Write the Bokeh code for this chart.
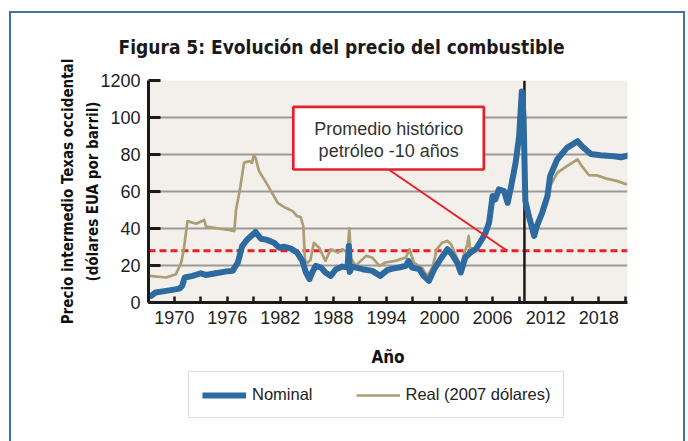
from bokeh.plotting import figure
from bokeh.layouts import column
from bokeh.models import Range1d, FixedTicker, Span, BoxAnnotation, Label, Legend
from bokeh.embed import file_html
from bokeh.resources import INLINE

# ---------------- data ----------------
nominal_year = [1967.4, 1967.9, 1969.1, 1970.6, 1970.9, 1971.2, 1972.1, 1973.0, 1973.6, 1974.7,
                1975.8, 1976.6, 1977.2, 1977.7, 1978.3, 1979.2, 1979.8, 1980.4, 1981.3, 1981.9,
                1982.4, 1983.2, 1983.9, 1984.5, 1984.9, 1985.3, 1985.6, 1986.0, 1986.6, 1987.1,
                1987.7, 1988.3, 1989.0, 1989.6, 1989.75, 1989.85, 1990.1, 1991.3, 1992.4, 1993.3,
                1994.1, 1994.7, 1995.4, 1996.2, 1996.5, 1996.9, 1997.7, 1998.2, 1998.8, 1999.4,
                2000.1, 2000.9, 2001.4, 2002.0, 2002.4, 2002.9, 2003.5, 2004.1, 2004.8, 2005.2,
                2005.6, 2006.0, 2006.3, 2006.7, 2007.3, 2007.7, 2008.1, 2008.6, 2009.0, 2009.3,
                2009.5, 2009.7, 2010.1, 2010.7, 2011.0, 2011.6, 2012.2, 2012.5, 2013.3, 2014.4,
                2015.6, 2016.1, 2017.1, 2018.2, 2019.7, 2020.5, 2021.4]
nominal_price = [3.6, 5.4, 6.3, 7.5, 9.0, 13.5, 14.4, 15.8, 14.9, 15.8,
                 16.7, 17.1, 21.6, 30.6, 34.2, 38.1, 34.5, 34.0, 32.3, 29.6,
                 30.2, 29.1, 27.0, 22.5, 16.2, 12.6, 16.2, 19.8, 18.9, 16.2,
                 14.4, 18.0, 19.4, 18.9, 30.6, 16.5, 19.4, 18.0, 17.1, 14.4,
                 17.5, 18.3, 18.9, 19.8, 22.5, 18.9, 18.0, 14.4, 11.7, 18.0,
                 23.4, 28.8, 26.1, 21.6, 16.2, 24.3, 27.0, 28.8, 34.2, 37.7,
                 43.1, 57.5, 55.7, 61.1, 60.2, 53.9, 62.9, 75.5, 89.9, 114.0,
                 100.6, 54.8, 46.7, 36.0, 41.3, 48.5, 57.5, 68.3, 77.3, 83.6,
                 87.2, 84.5, 80.3, 79.6, 79.1, 78.5, 79.5]

real_year = [1967.2, 1969.1, 1970.2, 1970.8, 1971.1, 1971.5, 1972.5, 1973.4, 1973.6, 1975.1,
             1976.2, 1976.8, 1977.0, 1977.5, 1977.9, 1978.5, 1978.8, 1979.0, 1979.2, 1979.6,
             1980.5, 1981.1, 1981.7, 1982.6, 1983.4, 1983.9, 1984.3, 1984.6, 1984.8, 1985.1,
             1985.4, 1985.8, 1986.4, 1987.1, 1987.7, 1988.5, 1989.0, 1989.6, 1989.8, 1990.0,
             1990.5, 1991.7, 1992.4, 1993.2, 1993.9, 1995.0, 1996.2, 1996.6, 1997.1, 1998.0,
             1998.6, 1999.2, 1999.7, 2000.3, 2000.9, 2001.3, 2001.8, 2002.4, 2002.8, 2003.1,
             2003.3, 2003.45, 2004.1, 2004.8, 2005.2, 2005.6, 2006.0, 2006.3, 2006.6, 2007.3,
             2007.7, 2008.1, 2008.6, 2009.0, 2009.4, 2009.65, 2009.9, 2010.1, 2010.7, 2011.0,
             2011.6, 2012.2, 2012.5, 2013.3, 2014.4, 2015.6, 2016.1, 2016.9, 2017.8, 2019.0,
             2020.1, 2021.2]
real_price = [14.4, 13.5, 15.3, 21.6, 28.8, 44.0, 42.6, 44.6, 41.0, 39.9,
              39.2, 38.6, 50.3, 62.9, 75.5, 76.4, 75.5, 79.5, 78.2, 71.0,
              64.0, 59.0, 53.9, 51.2, 49.4, 46.7, 46.2, 41.3, 22.5, 21.6,
              23.0, 32.3, 29.6, 22.5, 28.8, 27.0, 28.8, 27.0, 39.9, 24.0,
              19.8, 25.2, 24.3, 19.8, 21.6, 22.5, 24.3, 28.8, 21.6, 18.9,
              14.4, 18.9, 28.8, 32.3, 33.3, 31.5, 26.1, 18.9, 27.0, 30.6,
              36.0, 29.0, 29.5, 34.5, 38.0, 44.0, 58.5, 57.0, 62.0, 60.5,
              55.0, 63.0, 76.0, 89.0, 112.0, 80.0, 50.0, 46.0, 37.0, 41.0,
              47.0, 55.0, 62.9, 70.1, 73.7, 77.3, 73.7, 68.8, 68.7, 66.8,
              65.6, 63.8]

historical_average = 28.0
marker_year = 2009.6

x_tick_years = [1970, 1973, 1976, 1979, 1982, 1985, 1988, 1991, 1994, 1997,
                2000, 2003, 2006, 2009, 2012, 2015, 2018, 2021]
x_tick_labels = ["1970", "", "1976", "", "1982", "", "1988", "", "1994", "",
                 "2000", "", "2006", "", "2012", "", "2018", ""]
y_tick_values = [0, 20, 40, 60, 80, 100, 120]
y_tick_labels = ["0", "20", "40", "60", "80", "100", "1200"]

series_names = ["Nominal", "Real (2007 dólares)"]
title_text = "Figura 5: Evolución del precio del combustible"
callout_lines = ["Promedio histórico", "petróleo -10 años"]

# ---------------- styling ----------------
BLUE = "#2d6a9f"
TAN = "#ab9d74"
RED = "#e8202a"
FRAME_BLUE = "#3e73a8"
BOLD_FONT = "'DejaVu Sans Condensed', Roboto"
SANS = "Liberation Sans"

p = figure(frame_width=479, frame_height=222, output_backend="svg", toolbar_location=None,
           x_range=Range1d(1967.1, 2021.25), y_range=Range1d(0, 120),
           min_border_left=137, min_border_right=56, min_border_top=67,
           min_border_bottom=68,
           background_fill_color="#f3f0eb", border_fill_color="white",
           outline_line_color=None)

# title
p.title.text = title_text
p.title.align = "left"
p.title.offset = -30
p.title.vertical_align = "top"
p.title.text_font = BOLD_FONT
p.title.text_font_style = "bold"
p.title.text_font_size = "19px"
p.title.text_color = "#1a1a1a"
p.title.standoff = 41

# grid
p.xgrid.visible = False
p.ygrid.grid_line_color = "#9a9a9a"
p.ygrid.grid_line_width = 2
p.ygrid.ticker = FixedTicker(ticks=y_tick_values)

# x axis
xa = p.xaxis[0]
xa.ticker = FixedTicker(ticks=x_tick_years, minor_ticks=[])
xa.major_label_overrides = {y: l for y, l in zip(x_tick_years, x_tick_labels)}
xa.axis_line_width = 3
xa.axis_line_color = "#1a1a1a"
xa.major_tick_in = 6
xa.major_tick_out = 0
xa.major_tick_line_width = 2.5
xa.major_tick_line_color = "#1a1a1a"
xa.minor_tick_line_color = None
xa.major_label_text_font = SANS
xa.major_label_text_font_size = "18px"
xa.major_label_text_color = "#222222"
xa.major_label_standoff = 8
xa.axis_label = "Año"
xa.axis_label_text_font = BOLD_FONT
xa.axis_label_text_font_style = "bold"
xa.axis_label_text_font_size = "17px"
xa.axis_label_text_color = "#111111"
xa.axis_label_standoff = 20

# y axis
ya = p.yaxis[0]
ya.ticker = FixedTicker(ticks=y_tick_values, minor_ticks=[])
ya.major_label_overrides = {v: l for v, l in zip(y_tick_values, y_tick_labels)}
ya.axis_line_width = 3
ya.axis_line_color = "#1a1a1a"
ya.major_tick_in = 12
ya.major_tick_out = 0
ya.major_tick_line_width = 3
ya.major_tick_line_color = "#1a1a1a"
ya.minor_tick_line_color = None
ya.major_label_text_font = SANS
ya.major_label_text_font_size = "18px"
ya.major_label_text_color = "#222222"
ya.major_label_standoff = 8
ya.axis_label = "Precio intermedio Texas occidental\n(dólares EUA por barril)"
ya.axis_label_text_font = BOLD_FONT
ya.axis_label_text_font_style = "bold"
ya.axis_label_text_font_size = "15px"
ya.axis_label_text_line_height = 1.4
ya.axis_label_text_color = "#111111"
ya.axis_label_standoff = -5

# reference lines
avg_line = Span(location=historical_average, dimension="width", line_color=RED,
                line_width=3, line_dash="7 4", level="underlay")
p.add_layout(avg_line)
marker = Span(location=marker_year, dimension="height", line_color="#1a1a1a",
              line_width=2.5, level="underlay")
p.add_layout(marker)

# data
r_real = p.line(real_year, real_price, line_color=TAN, line_width=2.7, line_join="round")
r_nom = p.line(nominal_year, nominal_price, line_color=BLUE, line_width=6,
               line_join="round", line_cap="round")

# callout
p.segment(x0=[1994.25], y0=[71.9], x1=[2007.65], y1=[historical_average],
          line_color=RED, line_width=2)
box = BoxAnnotation(left=1983.47, right=2005.01, bottom=71.9, top=105.7,
                    fill_color="white", fill_alpha=1.0, line_color=RED,
                    line_width=2.7, line_alpha=1.0)
p.add_layout(box)
for txt, yy in zip(callout_lines, [93.6, 81.8]):
    p.add_layout(Label(x=1994.25, y=yy, text=txt, text_align="center",
                       text_baseline="middle", text_font=SANS,
                       text_font_size="18px", text_color="#333333"))

# legend row (separate strip under the chart; its frame is aligned with the chart's)
leg = figure(width=672, height=71, output_backend="svg", toolbar_location=None,
             x_axis_location=None, y_axis_location=None, min_border=0,
             x_range=Range1d(0, 1), y_range=Range1d(0, 1),
             outline_line_color=None, background_fill_color="white",
             border_fill_color="white")
leg.xgrid.visible = False
leg.ygrid.visible = False
# same series, outside this strip's ranges: only their legend glyphs show
proxy_nom = leg.line(nominal_year, nominal_price, line_color=BLUE, line_width=6)
proxy_real = leg.line(real_year, real_price, line_color=TAN, line_width=2.7)
legend = Legend(items=[(series_names[0], [proxy_nom]), (series_names[1], [proxy_real])],
                orientation="horizontal", location=(40, 23),
                border_line_color="#bdbdbd", border_line_width=1.5,
                background_fill_color="white", background_fill_alpha=1.0,
                padding=13, spacing=43, glyph_width=44, glyph_height=16,
                label_standoff=6, label_height=16, label_text_font=SANS,
                label_text_font_size="16.5px", label_text_color="#222222", margin=0)
leg.add_layout(legend)

layout = column(p, leg, spacing=0,
                styles={"border-top": "2px solid " + FRAME_BLUE,
                        "border-left": "2px solid " + FRAME_BLUE,
                        "border-right": "2px solid " + FRAME_BLUE,
                        "margin-left": "9px", "margin-top": "11px"})

open("out.html", "w").write(file_html(layout, INLINE))
